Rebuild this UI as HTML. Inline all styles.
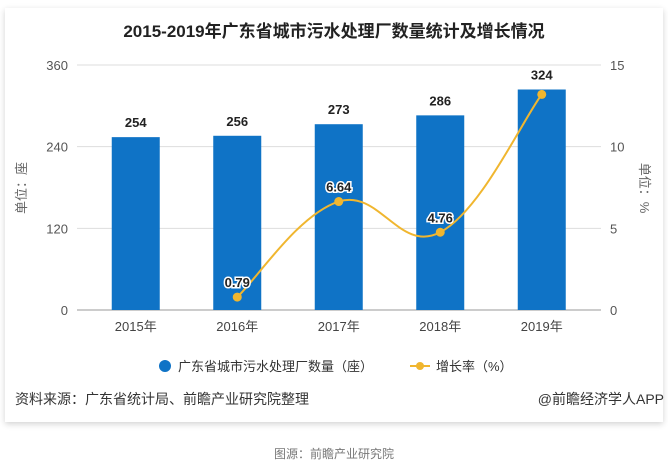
<!DOCTYPE html>
<html><head><meta charset="utf-8"><style>
body{margin:0;width:668px;height:466px;background:#fff;font-family:"Liberation Sans","Noto Sans CJK SC",sans-serif;overflow:hidden}
.card{position:absolute;left:5px;top:8px;width:658px;height:414px;background:#fff;box-shadow:0 2px 6px rgba(0,0,0,0.18)}
</style></head><body>
<div class="card"></div>
<svg width="668" height="466" style="position:absolute;left:0;top:0" id="chart" font-family="Liberation Sans, Noto Sans CJK SC, sans-serif">
<text x="334" y="37" text-anchor="middle" font-size="17" font-weight="bold" fill="#222">2015-2019年广东省城市污水处理厂数量统计及增长情况</text>
<g id="grid"></g><g id="bars"></g><g id="line"></g><g id="labels"></g>
<text transform="translate(26,188) rotate(-90)" text-anchor="middle" font-size="13" fill="#666">单位：座</text>
<text transform="translate(640,188) rotate(90)" text-anchor="middle" font-size="13" fill="#666">单位：%</text>
<g>
<circle cx="165" cy="366" r="6" fill="#0f73c6"/>
<text x="178" y="371" font-size="13" fill="#333">广东省城市污水处理厂数量（座）</text>
<line x1="410" y1="366" x2="430" y2="366" stroke="#f0b62f" stroke-width="2"/>
<circle cx="420" cy="366" r="4" fill="#f0b62f"/>
<text x="436" y="371" font-size="13" fill="#333">增长率（%）</text>
</g>
<text x="15" y="404" font-size="14" fill="#333">资料来源：广东省统计局、前瞻产业研究院整理</text>
<text x="664" y="404" text-anchor="end" font-size="14" fill="#333">@前瞻经济学人APP</text>
<text x="334" y="458" text-anchor="middle" font-size="12" fill="#777">图源：前瞻产业研究院</text>
</svg>
<script>
const categories=["2015年","2016年","2017年","2018年","2019年"];
const counts=[254,256,273,286,324];
const growth=[null,0.79,6.64,4.76,13.2];
const growthLabels=["","0.79","6.64","4.76",""];
const leftTicks=[0,120,240,360];
const rightTicks=[0,5,10,15];
const NS="http://www.w3.org/2000/svg";
const gx0=77,gx1=601,x0=85,x1=592.5,yTop=65,yBot=310;
const xc=i=>x0+(x1-x0)/categories.length*(i+0.5);
const yL=v=>yBot-(v/360)*(yBot-yTop);
const yR=v=>yBot-(v/15)*(yBot-yTop);
function mk(tag,attrs,parent,txt){const e=document.createElementNS(NS,tag);for(const k in attrs)e.setAttribute(k,attrs[k]);if(txt!==undefined)e.textContent=txt;document.getElementById(parent).appendChild(e);return e;}
leftTicks.forEach((t,i)=>{
  const g=mk("line",{x1:gx0,x2:gx1,y1:yL(t),y2:yL(t),stroke:i==0?"#999":"#ddd","stroke-width":1},"grid");
  
  
  const l=mk("text",{x:68,y:yL(t)+5,"text-anchor":"end","font-size":13,fill:"#555"},"grid",t);
  
  
});
rightTicks.forEach(t=>{
  const l=mk("text",{x:610,y:yR(t)+5,"font-size":13,fill:"#555"},"grid",t);
  
  
});
categories.forEach((c,i)=>{
  const b=mk("rect",{x:xc(i)-24,y:yL(counts[i]),width:48,height:yBot-yL(counts[i]),fill:"#0f73c6"},"bars");
  
  
  const v=mk("text",{x:xc(i),y:yL(counts[i])-10,"text-anchor":"middle","font-size":13,"font-weight":"bold",fill:"#222"},"labels",counts[i]);
  
  
  const xl=mk("text",{x:xc(i),y:331,"text-anchor":"middle","font-size":13,fill:"#444"},"grid",c);
  
  
});
const pts=[];growth.forEach((g,i)=>{if(g!==null)pts.push([xc(i),yR(g)]);});
let d="M"+pts[0][0]+","+pts[0][1];
for(let i=0;i<pts.length-1;i++){
  const p0=pts[Math.max(0,i-1)],p1=pts[i],p2=pts[i+1],p3=pts[Math.min(pts.length-1,i+2)];
  const t=0.2;
  d+=` C${p1[0]+(p2[0]-p0[0])*t},${p1[1]+(p2[1]-p0[1])*t} ${p2[0]-(p3[0]-p1[0])*t},${p2[1]-(p3[1]-p1[1])*t} ${p2[0]},${p2[1]}`;
}
const path=mk("path",{d:d,fill:"none",stroke:"#f0b62f","stroke-width":2},"line");


growth.forEach((g,i)=>{
  if(g===null)return;
  const c=mk("circle",{cx:xc(i),cy:yR(g),r:4.5,fill:"#f0b62f"},"line");
  
  
  if(growthLabels[i]){
    const l=mk("text",{x:xc(i),y:yR(g)-10,"text-anchor":"middle","font-size":13,"font-weight":"bold",fill:"#222",stroke:"#fff","stroke-width":3,"paint-order":"stroke"},"labels",growthLabels[i]);
    
    
  }
});
</script>
</body></html>
